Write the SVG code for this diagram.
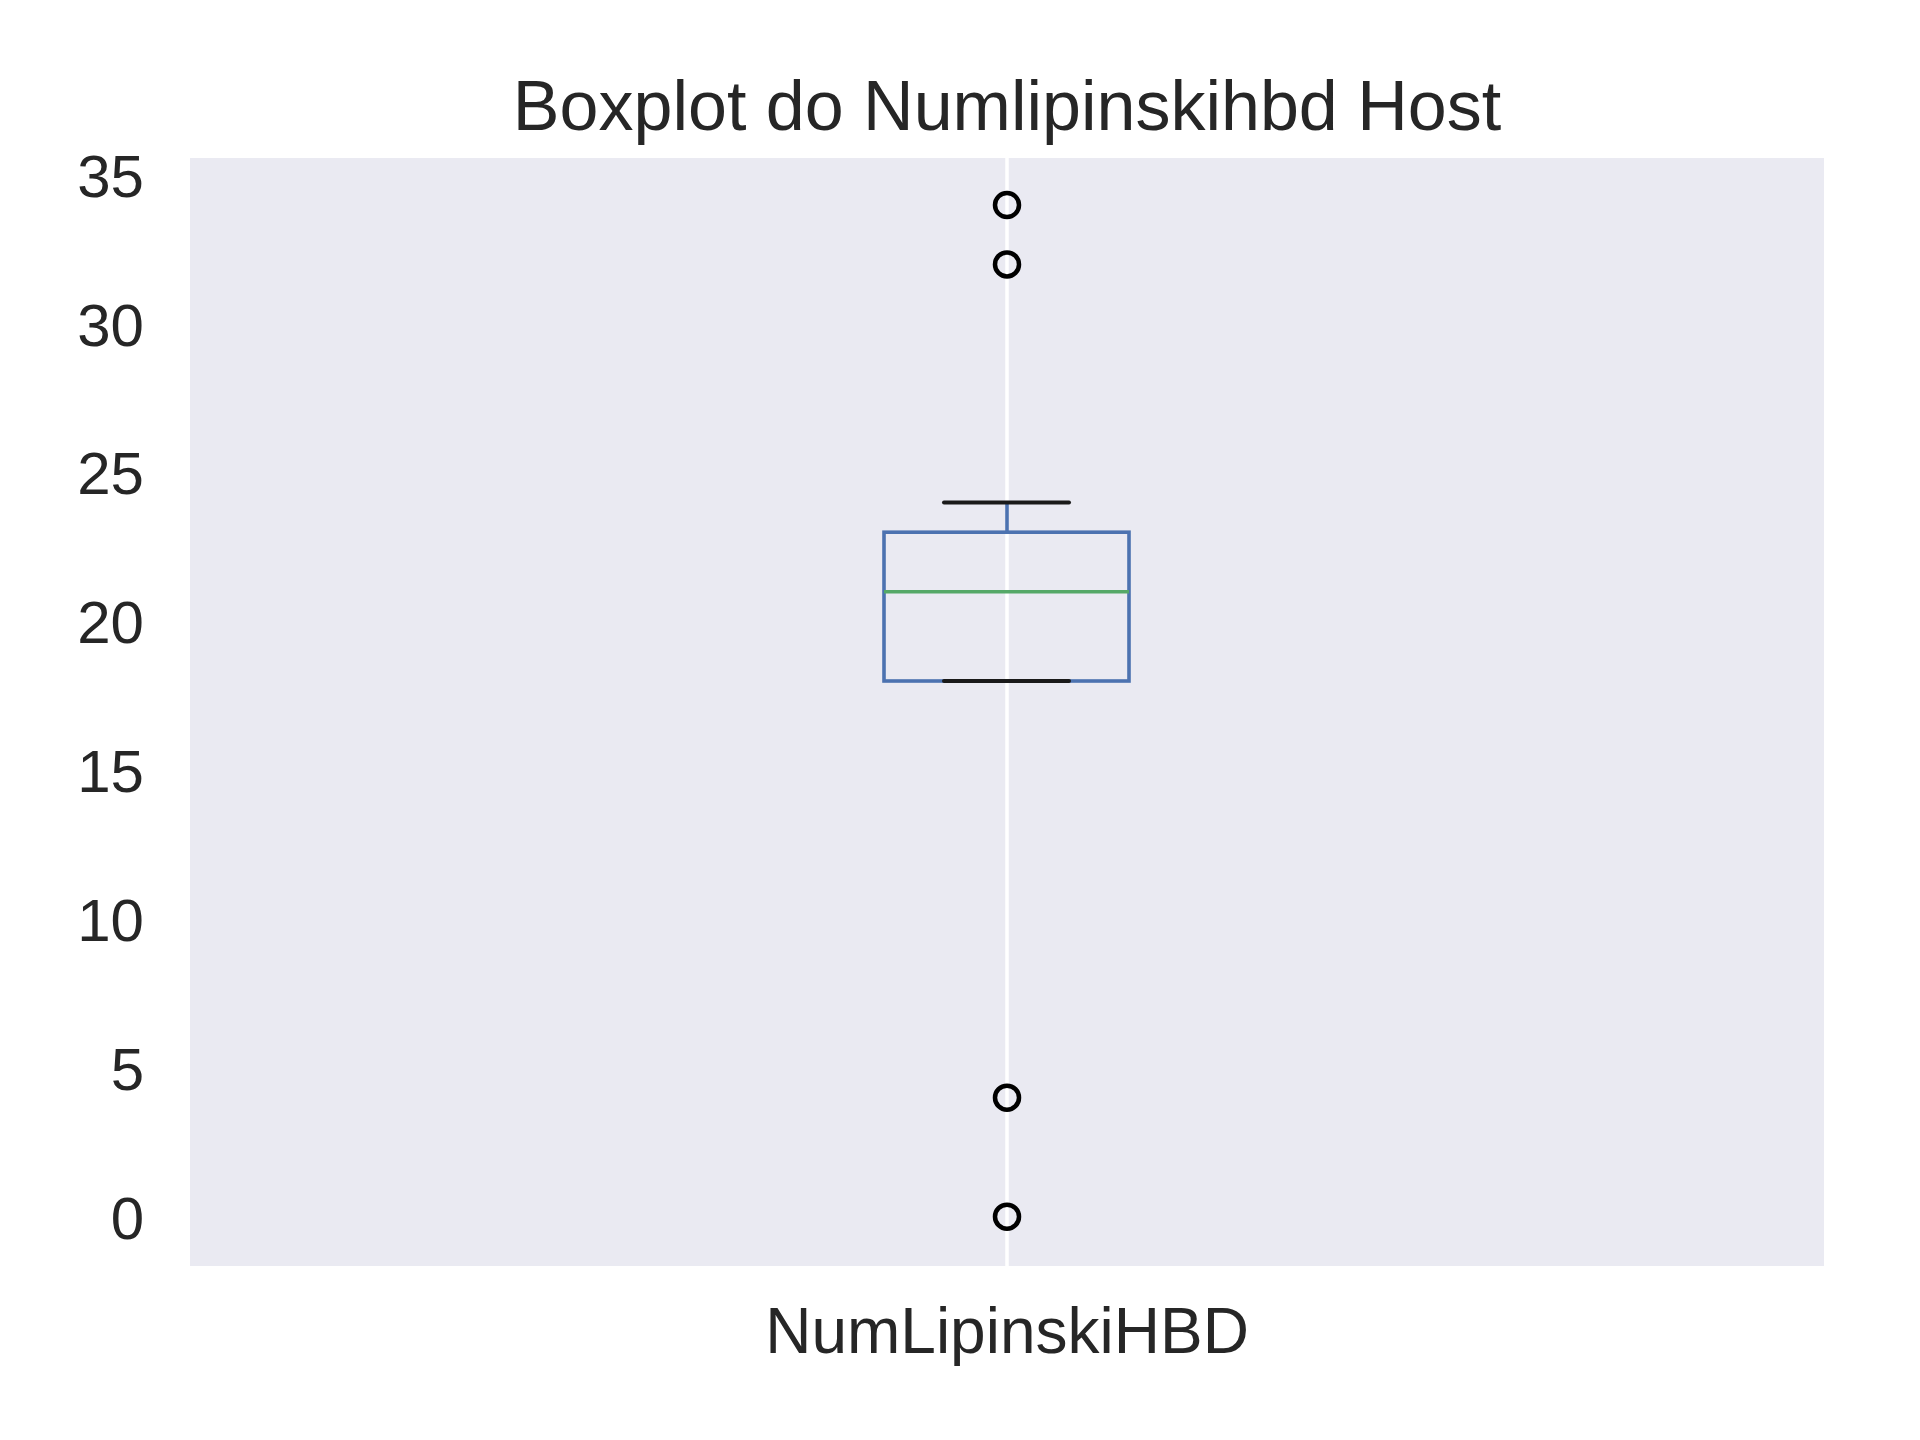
<svg xmlns="http://www.w3.org/2000/svg" width="1920" height="1440" viewBox="0 0 1920 1440">
  <style>
    text { font-family: "Liberation Sans", Arial, sans-serif; fill: #262626; }
    .tick { font-size: 60px; text-anchor: end; }
    .xtick { font-size: 64px; text-anchor: middle; }
    .title { font-size: 70px; text-anchor: middle; }
    .box { fill: none; stroke: #4c72b0; stroke-width: 3.6; stroke-linejoin: miter; }
    .whisker { stroke: #4c72b0; stroke-width: 3.6; }
    .cap { stroke: #1a1a1a; stroke-width: 4; stroke-linecap: round; }
    .median { stroke: #55a868; stroke-width: 3.6; }
    .flier { fill: none; stroke: #000000; stroke-width: 4.5; }
    .grid { stroke: #ffffff; stroke-width: 3.5; }
  </style>
  <rect x="0" y="0" width="1920" height="1440" fill="#ffffff"/>
  <g id="axes">
    <rect id="plot-area" x="190" y="158" width="1634" height="1108" fill="#eaeaf2"/>
    <line class="grid" x1="1007" y1="158" x2="1007" y2="1266"/>
  </g>
  <g id="title">
    <text class="title" x="1007" y="130">Boxplot do Numlipinskihbd Host</text>
  </g>
  <g id="y-ticks">
    <text class="tick" x="144" y="1238.5">0</text>
    <text class="tick" x="144" y="1089.5">5</text>
    <text class="tick" x="144" y="940.7">10</text>
    <text class="tick" x="144" y="791.9">15</text>
    <text class="tick" x="144" y="643.1">20</text>
    <text class="tick" x="144" y="494.3">25</text>
    <text class="tick" x="144" y="345.5">30</text>
    <text class="tick" x="144" y="196.7">35</text>
  </g>
  <g id="x-ticks">
    <text class="xtick" x="1007" y="1353">NumLipinskiHBD</text>
  </g>
  <g id="boxplot">
    <g id="box"><rect class="box" x="884" y="532.2" width="245" height="148.8"/></g>
    <g id="upper-whisker"><line class="whisker" x1="1007" y1="532.2" x2="1007" y2="502.5"/></g>
    <g id="upper-cap"><line class="cap" x1="944" y1="502.5" x2="1069" y2="502.5"/></g>
    <g id="lower-cap"><line class="cap" x1="944" y1="681" x2="1069" y2="681"/></g>
    <g id="median"><line class="median" x1="884" y1="591.7" x2="1129" y2="591.7"/></g>
    <g id="fliers">
      <circle class="flier" cx="1007" cy="205" r="12"/>
      <circle class="flier" cx="1007" cy="264.4" r="12"/>
      <circle class="flier" cx="1007" cy="1097.7" r="12"/>
      <circle class="flier" cx="1007" cy="1216.7" r="12"/>
    </g>
  </g>
</svg>
